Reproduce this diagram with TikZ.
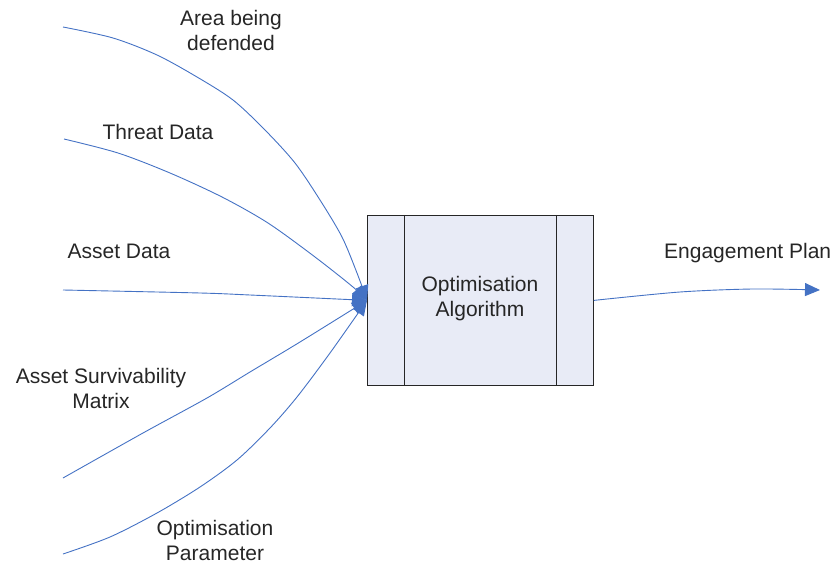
\documentclass[tikz,border=0pt]{standalone}
\usepackage{fontspec}
\setmainfont{Liberation Sans}
\usetikzlibrary{arrows.meta}
\definecolor{flowblue}{HTML}{4472C4}
\definecolor{boxfill}{HTML}{E8EBF6}
\begin{document}
\begin{tikzpicture}[x=1pt,y=-1pt,
  flow/.style={draw=flowblue, line width=0.9pt, -{Triangle[length=15pt,width=13pt]}},
  lbl/.style={font=\fontsize{21}{25}\selectfont, align=center, inner sep=0pt, text=black!85}]
\useasboundingbox (0,0) rectangle (838,564);
% process box
\node[draw=black!85, fill=boxfill, line width=0.8pt, minimum width=226pt, minimum height=170pt, inner sep=0pt, anchor=north west] (box) at (367,215) {};
\draw[black!85, line width=0.8pt] ([xshift=37pt]box.north west) -- ([xshift=37pt]box.south west);
\draw[black!85, line width=0.8pt] ([xshift=-37pt]box.north east) -- ([xshift=-37pt]box.south east);
\node[lbl] (alg) at (480,299) {Optimisation\\Algorithm};
% labels
\node[lbl] (larea) at (231,30) {Area being\\defended};
\node[lbl] (lthreat) at (158,132) {Threat Data};
\node[lbl] (lasset) at (119,251) {Asset Data};
\node[lbl] (lsurv) at (101,388) {Asset Survivability\\Matrix};
\node[lbl] (lopt) at (215,540) {Optimisation\\Parameter};
\node[lbl, anchor=west] (leng) at (664,253) {Engagement Plan};
% free ends
\coordinate (s1) at (63,27);
\coordinate (s2) at (64,139);
\coordinate (s3) at (63,290);
\coordinate (s4) at (63,478);
\coordinate (s5) at (63,554);
\coordinate (e1) at (820,290);
% connectors
\draw[flow] plot[smooth, tension=0.5] coordinates {(s1) (113,38) (157,55) (197,77) (233,100) (265,130) (295,163) (320,200) (342,237) (357,273) (box.west)};
\draw[flow] plot[smooth, tension=0.5] coordinates {(s2) (118,153) (170,173) (222,197) (268,223) (315,257) (353,287) (box.west)};
\draw[flow] plot[smooth, tension=0.5] coordinates {(s3) (200,293) (250,295) (box.west)};
\draw[flow] plot[smooth, tension=0.5] coordinates {(s4) (143,433) (207,398) (250,372) (300,342) (box.west)};
\draw[flow] plot[smooth, tension=0.5] coordinates {(s5) (110,537) (157,513) (200,487) (237,460) (270,428) (297,397) (330,353) (box.west)};
\draw[flow] plot[smooth, tension=0.5] coordinates {(box.east) (680,292) (753,289) (e1)};
\end{tikzpicture}
\end{document}
